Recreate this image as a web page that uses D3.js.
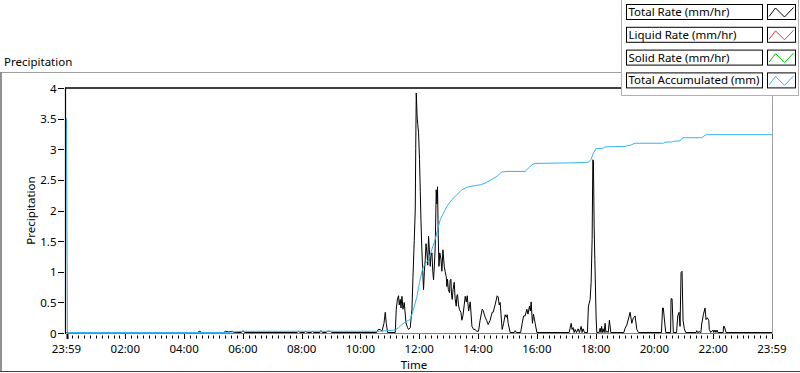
<!DOCTYPE html>
<html>
<head>
<meta charset="utf-8">
<script src="https://d3js.org/d3.v7.min.js"></script>
<style>
  body { margin: 0; background: #fff; }
  text { font-family: "Noto Sans", "Open Sans", sans-serif; }
</style>
</head>
<body>
<div id="chart"></div>
<script>
// hours since 23:59 of previous day, value
var totalRate = [[0,0],[4.45,0],[4.53,0.02],[4.6,0],[5.35,0],[5.405,0.02],[5.507,0.01],[5.643,0.02],[5.7,0],[5.95,0],[6.007,0.03],[6.06,0],
  [7.85,0],[7.887,0.02],[7.95,0],[8.1,0],[8.125,0.02],[8.2,0],[8.33,0],[8.362,0.02],[8.4,0],[8.62,0],[8.658,0.03],[8.7,0],[8.84,0],[8.872,0.02],[8.975,0.02],[9.02,0],
  [10.55,0],[10.606,0.05],[10.674,0.05],[10.732,0.02],[10.80,0.15],[10.844,0.33],[10.878,0.15],[10.922,0],[11.184,0],[11.218,0.38],[11.26,0.55],[11.296,0.6],[11.32,0.45],
  [11.354,0.54],[11.38,0.4],[11.412,0.59],[11.446,0.38],[11.49,0.49],[11.548,0.16],[11.6,0.08],[11.636,0.05],[11.694,0.08],[11.752,0.38],[11.786,0.9],[11.83,1.5],
  [11.864,2.0],[11.88,3.0],[11.898,3.91],[11.93,3.5],[11.949,3.4],[11.976,3.27],[12.010,2.82],[12.035,2.3],[12.058,1.84],[12.085,1.4],[12.112,1.08],[12.146,0.7],
  [12.175,1.0],[12.204,1.19],[12.23,1.45],[12.262,1.3],[12.29,1.1],[12.316,1.57],[12.345,1.35],[12.374,1.08],[12.40,1.25],[12.432,1.3],[12.46,1.0],[12.486,0.86],
  [12.515,1.1],[12.544,1.41],[12.578,2.33],[12.60,2.1],[12.622,2.38],[12.645,1.6],[12.670,1.08],[12.70,1.3],[12.738,1.2],[12.77,1.0],[12.806,1.35],[12.83,1.2],
  [12.850,1.08],[12.88,1.0],[12.918,0.91],[12.94,0.75],[12.962,0.87],[12.99,0.7],[13.030,0.65],[13.05,0.85],[13.077,0.87],[13.10,0.6],[13.122,0.54],[13.15,0.7],
  [13.190,0.82],[13.22,0.55],[13.258,0.43],[13.28,0.6],[13.302,0.62],[13.335,0.45],[13.370,0.37],[13.418,0.33],[13.45,0.2],[13.486,0.27],[13.53,0.45],[13.564,0.59],
  [13.6,0.5],[13.632,0.6],[13.68,0.35],[13.734,0.5],[13.792,0.1],[13.85,0.05],[13.904,0.05],[13.95,0.02],[14.016,0.02],[14.07,0.2],[14.141,0.38],[14.175,0.36],
  [14.21,0.3],[14.243,0.25],[14.29,0.2],[14.345,0.13],[14.41,0.2],[14.481,0.33],[14.515,0.33],[14.58,0.45],[14.651,0.6],[14.685,0.58],[14.72,0.45],[14.753,0.49],
  [14.78,0.3],[14.821,0.05],[14.87,0.15],[14.923,0.29],[14.96,0.25],[14.991,0.29],[15.025,0.15],[15.093,0],[15.23,0],[15.263,0.03],[15.3,0],[15.45,0],[15.501,0.15],
  [15.55,0.27],[15.603,0.27],[15.661,0.38],[15.70,0.3],[15.749,0.43],[15.78,0.35],[15.807,0.5],[15.851,0.15],[15.885,0.3],[15.943,0.15],[16.001,0],[17.10,0],
  [17.167,0.15],[17.2,0.05],[17.235,0.08],[17.27,0],[17.303,0.05],[17.35,0],[17.405,0.06],[17.45,0],[17.507,0.1],[17.54,0],[17.575,0.06],[17.62,0],[17.72,0],
  [17.755,0.43],[17.813,0.54],[17.847,0.82],[17.881,1.52],[17.905,2.82],[17.925,2.8],[17.949,1.74],[17.973,1.19],[17.993,0.76],[18.017,0.22],[18.041,0],[18.12,0],
  [18.153,0.07],[18.18,0],[18.204,0.1],[18.23,0],[18.255,0.06],[18.29,0],[18.323,0.15],[18.35,0],[18.381,0.02],[18.43,0],[18.469,0.2],[18.517,0],[18.96,0],
  [19.003,0.07],[19.06,0.12],[19.115,0.22],[19.173,0.33],[19.230,0.15],[19.285,0.24],[19.343,0.27],[19.401,0.05],[19.455,0],[20.24,0],[20.277,0.4],[20.304,0.4],
  [20.338,0.22],[20.386,0],[20.55,0],[20.566,0.55],[20.600,0.55],[20.644,0],[20.753,0],[20.794,0.27],[20.838,0.33],[20.872,0.1],[20.906,0.98],[20.940,1.0],
  [20.974,0.2],[21.018,0.06],[21.066,0],[21.42,0],[21.440,0.03],[21.47,0],[21.50,0],[21.518,0.02],[21.55,0],[21.58,0],[21.610,0.14],[21.664,0.29],[21.722,0.4],
  [21.756,0.21],[21.800,0.24],[21.848,0.2],[21.868,0.05],[21.916,0],[21.994,0.04],[22.02,0],[22.062,0.04],[22.09,0],[22.130,0.04],[22.16,0],[22.34,0],
  [22.351,0.1],[22.378,0.1],[22.436,0],[24,0]];

var liquidRate = [];
var solidRate = [];

var totalAccum = [[0,3.5],[0.034,0],[5.4,0],[6.0,0.02],[10.674,0.02],[11.184,0.04],[11.296,0.08],[11.412,0.13],[11.524,0.17],[11.636,0.2],[11.694,0.21],
  [11.806,0.38],[11.922,0.59],[12.010,0.82],[12.092,1.0],[12.146,1.08],[12.316,1.19],[12.432,1.36],[12.544,1.52],[12.622,1.68],[12.714,1.84],[12.826,1.95],
  [12.942,2.06],[13.111,2.17],[13.281,2.25],[13.452,2.33],[13.621,2.37],[13.792,2.39],[14.074,2.41],[14.243,2.44],[14.471,2.5],[14.641,2.55],[14.811,2.62],
  [14.981,2.63],[15.603,2.63],[15.75,2.70],[15.841,2.74],[15.943,2.76],[17.191,2.77],[17.755,2.78],[17.837,2.82],[17.925,2.93],[18.007,3.0],[18.265,3.01],
  [18.323,3.03],[19.003,3.04],[19.196,3.06],[19.343,3.09],[20.304,3.09],[20.362,3.11],[20.59,3.11],[20.644,3.12],[20.872,3.13],[20.964,3.18],[21.61,3.18],
  [21.722,3.22],[21.78,3.23],[24,3.23]];

var xTickHours = [0,2,4,6,8,10,12,14,16,18,20,22,24];
var xTickLabels = ["23:59","02:00","04:00","06:00","08:00","10:00","12:00","14:00","16:00","18:00","20:00","22:00","23:59"];
var yTicks = [0,0.5,1,1.5,2,2.5,3,3.5,4];
var legendNames = ["Total Rate (mm/hr)","Liquid Rate (mm/hr)","Solid Rate (mm/hr)","Total Accumulated (mm)"];
var legendColors = ["#000000","#ff3030","#00d000","#33b4f0"];

var W = 800, H = 373;
var plot = {left: 66.5, right: 772, top: 88, bottom: 333};

var svg = d3.select("#chart").append("svg")
  .attr("width", W).attr("height", H);

// outer frame
svg.append("line").attr("x1", 0).attr("x2", 621).attr("y1", 72.5).attr("y2", 72.5)
  .attr("stroke", "#a0a0a0");
svg.append("line").attr("x1", 1).attr("x2", 1).attr("y1", 72).attr("y2", 372)
  .attr("stroke", "#909090").attr("stroke-width", 2);
svg.append("line").attr("x1", 0).attr("x2", W).attr("y1", 371.5).attr("y2", 371.5)
  .attr("stroke", "#404040");

svg.append("text").attr("x", 4).attr("y", 66).text("Precipitation")
  .style("font-size", "11.5px").attr("fill", "#000");

var x = d3.scaleLinear().domain([0, 24]).range([plot.left, plot.right]);
var y = d3.scaleLinear().domain([0, 4]).range([plot.bottom, plot.top]);

// plot border (right / bottom)
svg.append("line").attr("x1", plot.right + 0.5).attr("x2", plot.right + 0.5).attr("y1", plot.top).attr("y2", plot.bottom + 1)
  .attr("stroke", "#a0a0a0");
svg.append("line").attr("x1", plot.left).attr("x2", plot.right).attr("y1", plot.bottom + 0.5).attr("y2", plot.bottom + 0.5)
  .attr("stroke", "#808080");

var line = d3.line()
  .x(function(d) { return x(d[0]); })
  .y(function(d) { return y(d[1]) - 0.5; });

svg.append("clipPath").attr("id", "clip").append("rect")
  .attr("x", plot.left - 0.5).attr("y", plot.top).attr("width", plot.right - plot.left + 0.5).attr("height", plot.bottom - plot.top + 1);

var g = svg.append("g").attr("clip-path", "url(#clip)");
[[totalRate, legendColors[0]], [liquidRate, legendColors[1]], [solidRate, legendColors[2]], [totalAccum, legendColors[3]]]
  .forEach(function(s) {
    if (!s[0].length) return;
    g.append("path").datum(s[0])
      .attr("d", line)
      .attr("fill", "none")
      .attr("stroke", s[1])
      .attr("stroke-width", 1);
  });

// top / left border
svg.append("line").attr("x1", plot.left - 1.5).attr("x2", plot.right).attr("y1", plot.top).attr("y2", plot.top)
  .attr("stroke", "#000").attr("stroke-width", 1.5);
svg.append("line").attr("x1", plot.left - 1).attr("x2", plot.left - 1).attr("y1", plot.top).attr("y2", plot.bottom + 1)
  .attr("stroke", "#000").attr("stroke-width", 1.2);

// y axis
var yAxis = svg.append("g");
yAxis.selectAll("line.tk").data(yTicks).enter().append("line")
  .attr("x1", 58).attr("x2", 64)
  .attr("y1", function(d) { return Math.round(y(d)) + 0.5; })
  .attr("y2", function(d) { return Math.round(y(d)) + 0.5; })
  .attr("stroke", "#000");
yAxis.selectAll("text").data(yTicks).enter().append("text")
  .attr("x", 56.5).attr("y", function(d) { return y(d) + 4.5; })
  .attr("text-anchor", "end")
  .style("font-size", "11.5px")
  .text(function(d) { return d; });

svg.append("text")
  .attr("transform", "translate(35," + ((plot.top + plot.bottom) / 2) + ") rotate(-90)")
  .attr("text-anchor", "middle")
  .style("font-size", "11.5px")
  .text("Precipitation");

// x axis ticks
var minor = d3.range(0, 24.001, 0.2);
svg.append("g").selectAll("line").data(minor).enter().append("line")
  .attr("x1", function(d) { return Math.round(x(d)) + 0.5; })
  .attr("x2", function(d) { return Math.round(x(d)) + 0.5; })
  .attr("y1", 335.5).attr("y2", 338.5)
  .attr("stroke", "#000");
svg.append("g").selectAll("line").data(xTickHours).enter().append("line")
  .attr("x1", function(d) { return Math.round(x(d)) + 0.5; })
  .attr("x2", function(d) { return Math.round(x(d)) + 0.5; })
  .attr("y1", 334).attr("y2", 339)
  .attr("stroke", "#000")
  .attr("stroke-width", function(d, i) { return i === 0 ? 2 : 1; });
svg.append("g").selectAll("text").data(xTickHours).enter().append("text")
  .attr("x", function(d) { return x(d); })
  .attr("y", 353)
  .attr("text-anchor", "middle")
  .style("font-size", "11.5px")
  .text(function(d, i) { return xTickLabels[i]; });

svg.append("text").attr("x", 414).attr("y", 368.5)
  .attr("text-anchor", "middle")
  .style("font-size", "11.5px")
  .text("Time");

// legend panel
var lg = svg.append("g");
lg.append("rect").attr("x", 621.5).attr("y", -1).attr("width", 177).attr("height", 96.5)
  .attr("fill", "#fff").attr("stroke", "#b0b0b0");
legendNames.forEach(function(name, i) {
  var top = 4.5 + i * 22.8;
  lg.append("rect").attr("x", 626.5).attr("y", top).attr("width", 136).attr("height", 15)
    .attr("fill", "#fff").attr("stroke", "#000");
  lg.append("text").attr("x", 628.5).attr("y", top + 11.5)
    .style("font-size", "11.5px").text(name);
  lg.append("rect").attr("x", 767.5).attr("y", top).attr("width", 28).attr("height", 15)
    .attr("fill", "#fff").attr("stroke", "#000");
  lg.append("path")
    .attr("d", "M" + 769 + "," + (top + 12) + "L" + 775.5 + "," + (top + 3.5) + "L" + 784.5 + "," + (top + 12.5) + "L" + 793.5 + "," + (top + 3))
    .attr("fill", "none").attr("stroke", legendColors[i]).attr("stroke-width", 1);
});
</script>
</body>
</html>
